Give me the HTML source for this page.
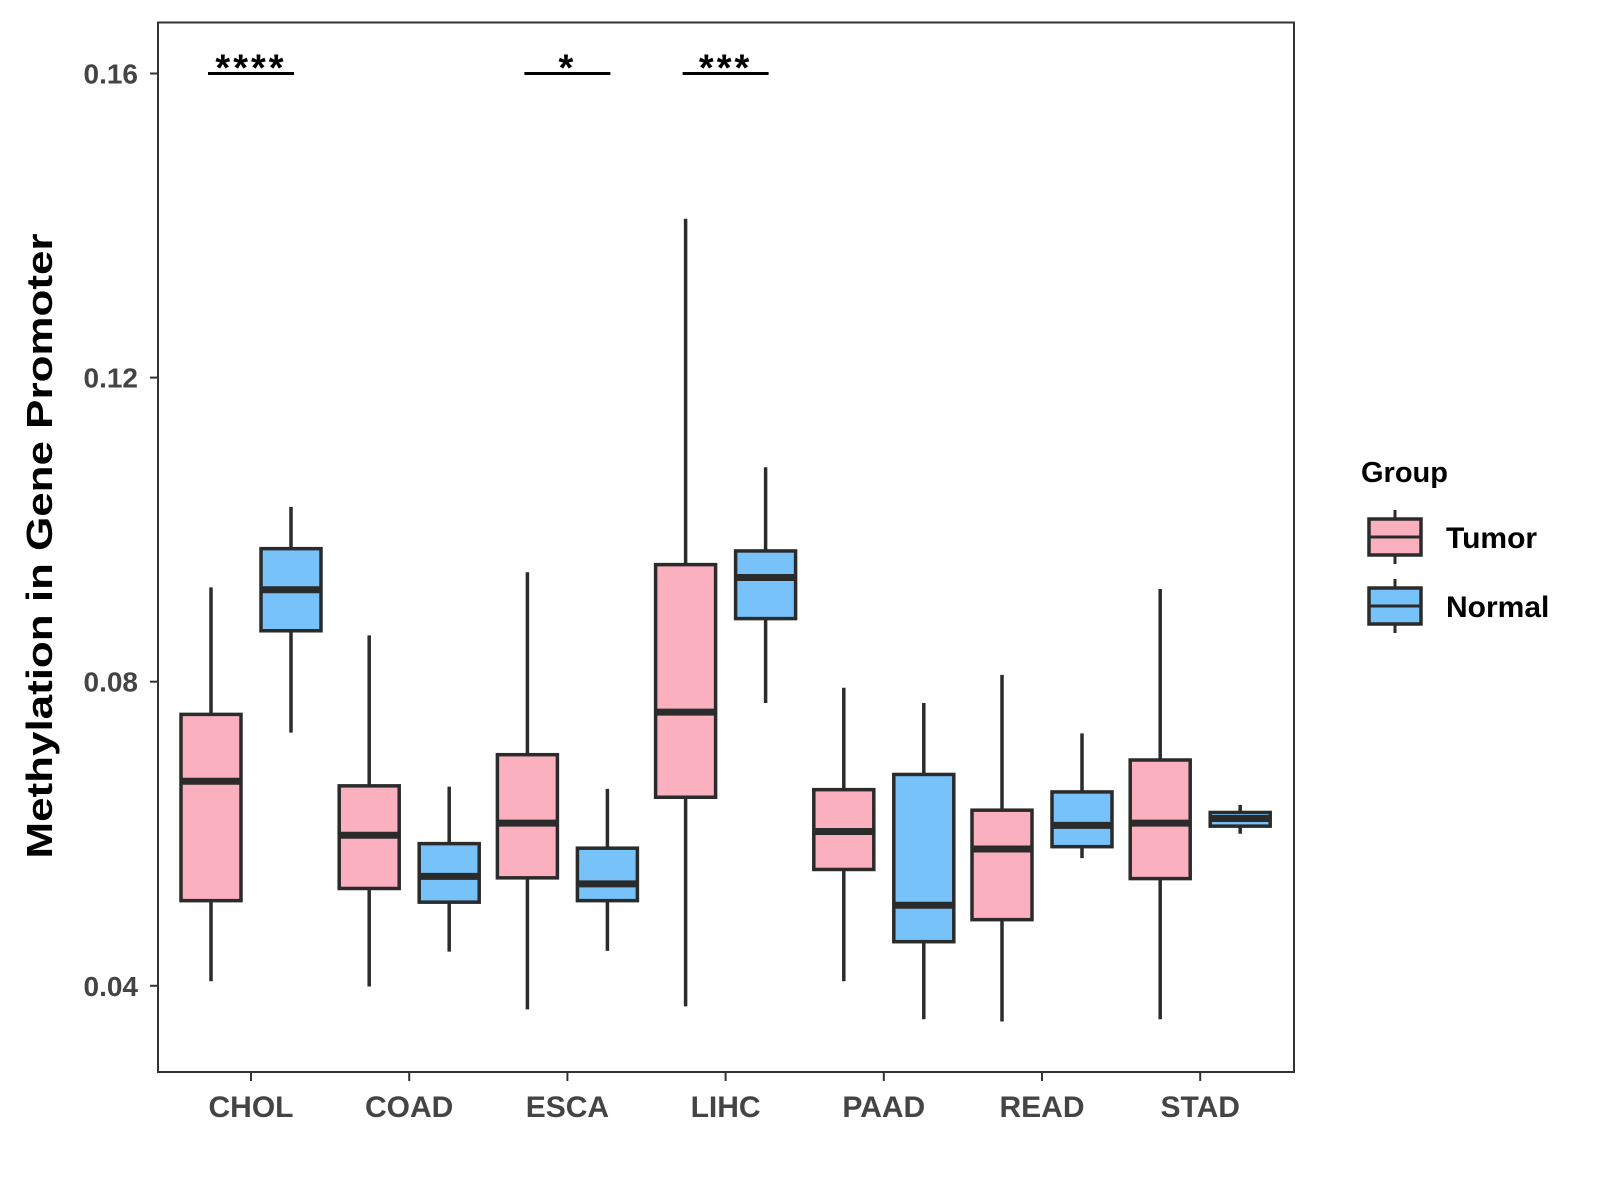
<!DOCTYPE html>
<html><head><meta charset="utf-8"><style>
html,body{margin:0;padding:0;background:#fff;}
svg{display:block;font-family:"Liberation Sans",Arial,sans-serif;}
</style></head><body>
<svg id="chart" width="1600" height="1200" viewBox="0 0 1600 1200">
<rect x="0" y="0" width="1600" height="1200" fill="#fff"/>
<g id="plot"></g>
</svg>
<script>
const categories = ["CHOL","COAD","ESCA","LIHC","PAAD","READ","STAD"];
const groups = ["Tumor","Normal"];
// [min, q1, median, q3, max]
const tumorStats = [
 [0.0406,0.0512,0.0669,0.0757,0.0924],
 [0.0399,0.0528,0.0598,0.0663,0.0861],
 [0.0369,0.0542,0.0614,0.0704,0.0944],
 [0.0373,0.0648,0.0760,0.0954,0.1409],
 [0.0406,0.0553,0.0603,0.0658,0.0792],
 [0.0353,0.0487,0.0580,0.0631,0.0809],
 [0.0356,0.0541,0.0614,0.0697,0.0922]
];
const normalStats = [
 [0.0733,0.0867,0.0921,0.0975,0.1030],
 [0.0445,0.0510,0.0544,0.0587,0.0662],
 [0.0446,0.0512,0.0534,0.0581,0.0659],
 [0.0772,0.0883,0.0937,0.0972,0.1082],
 [0.0356,0.0458,0.0506,0.0678,0.0772],
 [0.0568,0.0583,0.0611,0.0655,0.0732],
 [0.0600,0.0610,0.0620,0.0628,0.0638]
];
const yTicks = [0.04,0.08,0.12,0.16];
const yTickLabels = ["0.04","0.08","0.12","0.16"];
const sigCategories = ["CHOL","ESCA","LIHC"];
const sigLabels = ["****","*","***"];
const sigLevel = 0.16;

const NS="http://www.w3.org/2000/svg";
const plot=document.getElementById('plot');
const P={l:158,t:22.5,r:1294,b:1072};
const y=v=>73.5+(0.16-v)/0.04*304.1;
const x=i=>251+i*158.2;
const fills=["#FBB0C0","#77C2F8"];
const ink="#2b2b2b";
function mk(tag,attrs,parent){const e=document.createElementNS(NS,tag);for(const k in attrs)e.setAttribute(k,attrs[k]);(parent||plot).appendChild(e);return e;}

const frame=mk('rect',{x:P.l,y:P.t,width:P.r-P.l,height:P.b-P.t,fill:'none',stroke:'#333','stroke-width':2});



yTicks.forEach((v,i)=>{
 const t=mk('line',{x1:P.l-8,x2:P.l,y1:y(v),y2:y(v),stroke:'#333','stroke-width':2});
 
 
 const l=mk('text',{x:P.l-20,y:y(v)+10,'text-anchor':'end','font-size':28,'font-weight':'bold',fill:'#444'});
 l.textContent=yTickLabels[i];
 
 
});
categories.forEach((c,i)=>{
 const t=mk('line',{x1:x(i),x2:x(i),y1:P.b,y2:P.b+9,stroke:'#333','stroke-width':2});
 
 
 const l=mk('text',{x:x(i),y:P.b+45,'text-anchor':'middle','font-size':30,'font-weight':'bold',fill:'#444'});
 l.textContent=c;
 
 
});

function drawBox(s,cx,fill,name){
 const g=mk('g',{});
 
 
 const w=60;
 mk('line',{x1:cx,x2:cx,y1:y(s[4]),y2:y(s[0]),stroke:ink,'stroke-width':3.5},g);
 mk('rect',{x:cx-w/2,y:y(s[3]),width:w,height:Math.max(1,y(s[1])-y(s[3])),fill:fill,stroke:ink,'stroke-width':3.5},g);
 mk('line',{x1:cx-w/2,x2:cx+w/2,y1:y(s[2]),y2:y(s[2]),stroke:ink,'stroke-width':7},g);
}
categories.forEach((c,i)=>{
 drawBox(tumorStats[i],x(i)-40,fills[0],'box-tumor-'+c.toLowerCase());
 drawBox(normalStats[i],x(i)+40,fills[1],'box-normal-'+c.toLowerCase());
});
sigCategories.forEach((c,k)=>{
 const i=categories.indexOf(c);
 const ln=mk('line',{x1:x(i)-43,x2:x(i)+43,y1:y(sigLevel),y2:y(sigLevel),stroke:'#000','stroke-width':3});
 
 
 const t=mk('text',{x:x(i),y:y(sigLevel)+7,'text-anchor':'middle','font-size':38,'font-weight':'bold','letter-spacing':3,fill:'#000'});
 t.textContent=sigLabels[k];
 
 
});

const yt=mk('text',{x:0,y:0,transform:'translate(52,546) rotate(-90)','text-anchor':'middle','font-size':36,'font-weight':'bold',fill:'#000',textLength:625,lengthAdjust:'spacingAndGlyphs'});
yt.textContent='Methylation in Gene Promoter';



const lg=mk('g',{});


const lt=mk('text',{x:1361,y:482,'font-size':29,'font-weight':'bold',fill:'#000'},lg);
lt.textContent='Group';
groups.forEach((gname,k)=>{
 const cy=537+k*69;
 const e=mk('g',{},lg);
 
 
 mk('line',{x1:1395,x2:1395,y1:cy-27,y2:cy+27,stroke:ink,'stroke-width':3},e);
 mk('rect',{x:1369,y:cy-18,width:52,height:36,fill:fills[k],stroke:ink,'stroke-width':3.5},e);
 mk('line',{x1:1369,x2:1421,y1:cy,y2:cy,stroke:ink,'stroke-width':3},e);
 const t=mk('text',{x:1446,y:cy+11,'font-size':30,'font-weight':'bold',fill:'#000'},e);
 t.textContent=gname;
});
</script>
</body></html>
